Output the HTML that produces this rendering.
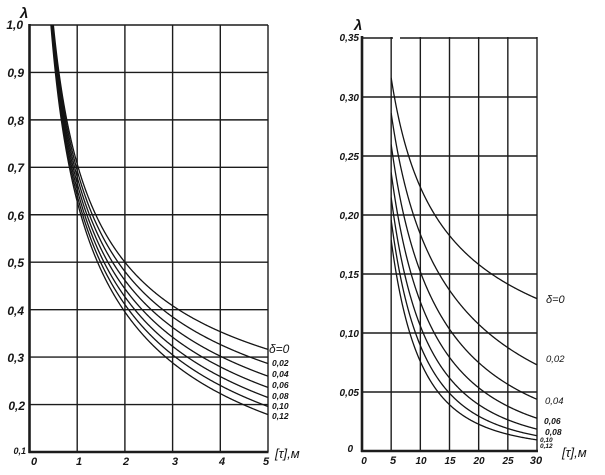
<!DOCTYPE html>
<html><head><meta charset="utf-8">
<style>
html,body{margin:0;padding:0;background:#fff;}
svg{display:block;}
text{font-family:"Liberation Sans",sans-serif;font-style:italic;font-weight:bold;fill:#151515;}
</style></head>
<body>
<svg id="s" width="605" height="475" viewBox="0 0 605 475" xmlns="http://www.w3.org/2000/svg">
<defs>
<clipPath id="cl"><rect x="29.5" y="25" width="238.5" height="427"/></clipPath>
<clipPath id="cr"><rect x="362" y="37" width="175" height="414"/></clipPath>
</defs>
<g id="grid" stroke="#1c1c1c" fill="none"></g>
<g id="curves" stroke="#141414" fill="none" stroke-width="1.3"></g>

<!-- left chart labels -->
<text x="20" y="18" font-size="15">λ</text>
<text x="23" y="29" font-size="12" text-anchor="end">1,0</text>
<text x="24" y="77" font-size="12" text-anchor="end">0,9</text>
<text x="24" y="125" font-size="12" text-anchor="end">0,8</text>
<text x="24" y="172" font-size="12" text-anchor="end">0,7</text>
<text x="24" y="220" font-size="12" text-anchor="end">0,6</text>
<text x="24" y="267" font-size="12" text-anchor="end">0,5</text>
<text x="24" y="315" font-size="12" text-anchor="end">0,4</text>
<text x="24" y="362" font-size="12" text-anchor="end">0,3</text>
<text x="25" y="410" font-size="12" text-anchor="end">0,2</text>
<text x="26" y="454" font-size="9" text-anchor="end">0,1</text>
<text x="34" y="465" font-size="11" text-anchor="middle">0</text>
<text x="79" y="465" font-size="11" text-anchor="middle">1</text>
<text x="126" y="465" font-size="11" text-anchor="middle">2</text>
<text x="175" y="465" font-size="11" text-anchor="middle">3</text>
<text x="222" y="465" font-size="11" text-anchor="middle">4</text>
<text x="266" y="465" font-size="11" text-anchor="middle">5</text>
<text x="275" y="458" font-size="13" style="font-weight:normal">[τ],м</text>
<text x="269" y="353" font-size="12" style="font-weight:normal">δ=0</text>
<text x="272" y="366" font-size="8.5">0,02</text>
<text x="272" y="377" font-size="8.5">0,04</text>
<text x="272" y="388" font-size="8.5">0,06</text>
<text x="272" y="399" font-size="8.5">0,08</text>
<text x="272" y="409" font-size="8.5">0,10</text>
<text x="272" y="419" font-size="8.5">0,12</text>

<!-- right chart labels -->
<text x="354" y="30" font-size="15">λ</text>
<text x="359" y="41" font-size="10" text-anchor="end">0,35</text>
<text x="359" y="101" font-size="10" text-anchor="end">0,30</text>
<text x="359" y="160" font-size="10" text-anchor="end">0,25</text>
<text x="359" y="219" font-size="10" text-anchor="end">0,20</text>
<text x="359" y="278" font-size="10" text-anchor="end">0,15</text>
<text x="359" y="337" font-size="10" text-anchor="end">0,10</text>
<text x="359" y="396" font-size="10" text-anchor="end">0,05</text>
<text x="353" y="452" font-size="10" text-anchor="end">0</text>
<text x="364" y="464" font-size="10" text-anchor="middle">0</text>
<text x="393" y="464" font-size="11" text-anchor="middle">5</text>
<text x="421" y="464" font-size="10" text-anchor="middle">10</text>
<text x="450" y="464" font-size="10" text-anchor="middle">15</text>
<text x="479" y="464" font-size="10" text-anchor="middle">20</text>
<text x="508" y="464" font-size="10" text-anchor="middle">25</text>
<text x="536" y="464" font-size="11" text-anchor="middle">30</text>
<text x="562" y="457" font-size="13" style="font-weight:normal">[τ],м</text>
<text x="546" y="303" font-size="11" style="font-weight:normal">δ=0</text>
<text x="546" y="362" font-size="9.5" style="font-weight:normal">0,02</text>
<text x="545" y="404" font-size="9.5" style="font-weight:normal">0,04</text>
<text x="544" y="424" font-size="8.5">0,06</text>
<text x="545" y="435" font-size="8.5">0,08</text>
<text x="540" y="442" font-size="6.5">0,10</text>
<text x="540" y="448" font-size="6.5">0,12</text>
</svg>
<script>
(function(){
var NS="http://www.w3.org/2000/svg";
var grid=document.getElementById('grid'), curves=document.getElementById('curves');
function line(x1,y1,x2,y2,w){var l=document.createElementNS(NS,'line');l.setAttribute('x1',x1);l.setAttribute('y1',y1);l.setAttribute('x2',x2);l.setAttribute('y2',y2);l.setAttribute('stroke-width',w);grid.appendChild(l);}
// Left chart
var LX=function(z){return 29.5+z*47.7;}, LY=function(l){return 25+(1-l)*474.4;};
for(var i=2;i<=10;i++){var y=LY(i/10);line(29.5,y,268,y,1.4);}
for(var z=1;z<=5;z++){line(LX(z),25,LX(z),452,1.4);}
line(29.5,24,29.5,453,2.6);line(28.5,452,268.5,452,2.6);
// Right chart
var RX=function(z){return 362+z*5.8333;}, RY=function(l){return 451-l*1180;};
for(var i=1;i<=6;i++){var y=RY(i*0.05);line(362,y,537.5,y,1.4);}
line(362,RY(0.35),393,RY(0.35),1.4);line(400,RY(0.35),537.5,RY(0.35),1.4);
for(var z=5;z<=30;z+=5){line(RX(z),37,RX(z),451,1.4);}
line(362,36,362,452,2.6);line(361,451,538,451,2.6);
function r(x){if(x<1e-9)return 1;var q=(1-Math.exp(-x))/x;return q*q;}
var ds=[0,0.02,0.04,0.06,0.08,0.10,0.12];
ds.forEach(function(d){
  var p='';
  for(var z=0.4;z<=5.0001;z+=0.01){var l=r(d*z)/Math.sqrt(2*z);p+=(p?'L':'M')+LX(z).toFixed(2)+' '+LY(l).toFixed(2);}
  var e=document.createElementNS(NS,'path');e.setAttribute('d',p);e.setAttribute('clip-path','url(#cl)');curves.appendChild(e);
  var p2='';
  for(var z=5;z<=30.0001;z+=0.1){var l=r(d*z)/Math.sqrt(2*z);p2+=(p2?'L':'M')+RX(z).toFixed(2)+' '+RY(l).toFixed(2);}
  var e2=document.createElementNS(NS,'path');e2.setAttribute('d',p2);curves.appendChild(e2);
});
})();
</script>
</body></html>
